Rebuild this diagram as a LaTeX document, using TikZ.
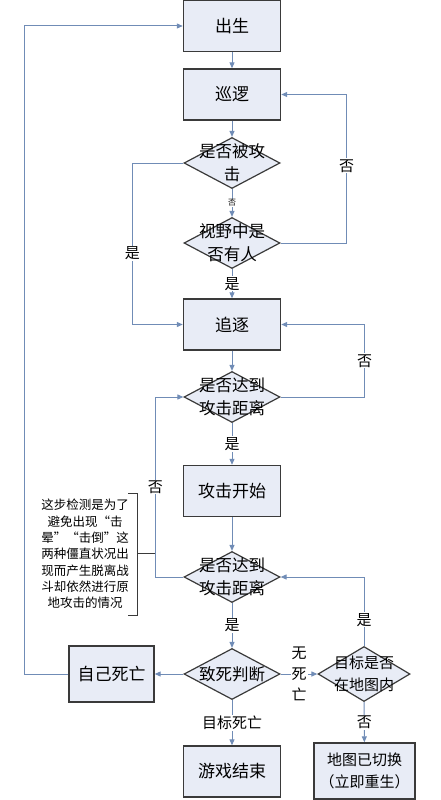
\documentclass[tikz,border=0pt]{standalone}
\usepackage{fontspec}
\setmainfont{Noto Sans CJK SC}
\usetikzlibrary{shapes.geometric,arrows.meta}
\definecolor{flowline}{RGB}{112,140,182}
\definecolor{boxfill}{RGB}{232,236,246}
\definecolor{boxedge}{RGB}{58,58,58}
\tikzset{
  box/.style={draw=boxedge, line width=1.4pt, fill=boxfill, minimum width=97pt, minimum height=51pt, inner sep=0pt, font=\fontsize{17}{20}\selectfont},
  decision/.style={diamond, draw=boxedge, line width=1.2pt, fill=boxfill, minimum width=96pt, minimum height=51pt, inner sep=0pt},
  dtext/.style={align=center, inner sep=0pt, font=\fontsize{16.5}{23}\selectfont},
  flow/.style={draw=flowline, line width=1pt, -{Triangle[length=6pt,width=5pt]}},
  lbl/.style={fill=white, inner sep=1pt, font=\fontsize{15}{18}\selectfont},
}
\begin{document}
\begin{tikzpicture}[x=1pt,y=-1pt]
\useasboundingbox (0,0) rectangle (440,800);

% main column
\node[box] (birth) at (232,26) {出生};
\node[box] (patrol) at (232,94.5) {巡逻};
\node[decision] (hit) at (232,163) {};
\node[dtext] (hitt) at (hit) {是否被攻\\击};
\node[decision] (seen) at (232,243) {};
\node[dtext] (seent) at (seen) {视野中是\\否有人};
\node[box] (chase) at (232,324.5) {追逐};
\node[decision] (range) at (232,397) {};
\node[dtext] (ranget) at (range) {是否达到\\攻击距离};
\node[box] (attack) at (232,491) {攻击开始};
\node[decision] (recheck) at (232,577) {};
\node[dtext] (recheckt) at (recheck) {是否达到\\攻击距离};
\node[decision] (kill) at (232,674) {};
\node[dtext] (killt) at (kill) {致死判断};
\node[box] (gameover) at (232,771.5) {游戏结束};

% side nodes
\node[box, minimum width=85pt, minimum height=56pt] (selfdead) at (111.5,674) {自己死亡};
\node[decision, minimum width=92pt, minimum height=55pt] (onmap) at (364,674) {};
\node[dtext, font=\fontsize{15}{22}\selectfont] (onmapt) at (onmap) {目标是否\\在地图内};
\node[box, minimum width=101pt, minimum height=56pt, align=center, font=\fontsize{15}{22}\selectfont] (mapswitch) at (364.5,771) {地图已切换\\（立即重生）};

% note
\node[align=center, inner sep=0pt, font=\fontsize{12.5}{16.3}\selectfont] (note) at (85,554) {这步检测是为了\\避免出现“击\\晕”“击倒”这\\两种僵直状况出\\现而产生脱离战\\斗却依然进行原\\地攻击的情况};
\draw[boxedge, line width=0.9pt] (128,493) -- (137,493) -- (137,615) -- (128,615);
\coordinate (noteend) at (155,553);
\draw[boxedge, line width=0.9pt] (137,553) -- (noteend);

% connectors
\draw[flow] (birth) -- (patrol);
\draw[flow] (patrol) -- (hit);
\draw[flow] (hit) -- node[fill=white, inner sep=0.5pt, font=\fontsize{8}{9}\selectfont]{否} (seen);
\draw[flow] (seen) -- node[lbl]{是} (chase);
\draw[flow] (hit.west) -- ++(-51,0) |- node[lbl, pos=0.28]{是} (chase.west);
\draw[flow] (seen.east) -- ++(66,0) |- node[lbl, pos=0.26]{否} (patrol.east);
\draw[flow] (chase) -- (range);
\draw[flow] (range) -- node[lbl]{是} (attack);
\draw[flow] (range.east) -- ++(84,0) |- node[lbl, pos=0.25]{否} (chase.east);
\draw[flow] (attack) -- (recheck);
\draw[flow] (recheck.west) -- ++(-28,0) |- node[lbl, pos=0.25]{否} (range.west);
\draw[flow] (recheck) -- node[lbl]{是} (kill);
\draw[flow] (kill) -- (selfdead);
\draw[flow] (selfdead.west) -- ++(-44,0) |- (birth.west);
\draw[flow] (kill) -- node[lbl, align=center, font=\fontsize{15}{21}\selectfont]{无\\死\\亡} (onmap);
\draw[flow] (onmap.north) |- node[lbl, pos=0.19]{是} (recheck.east);
\draw[flow] (onmap) -- node[lbl]{否} (mapswitch);
\draw[flow] (kill) -- node[lbl]{目标死亡} (gameover);

\end{tikzpicture}
\end{document}
